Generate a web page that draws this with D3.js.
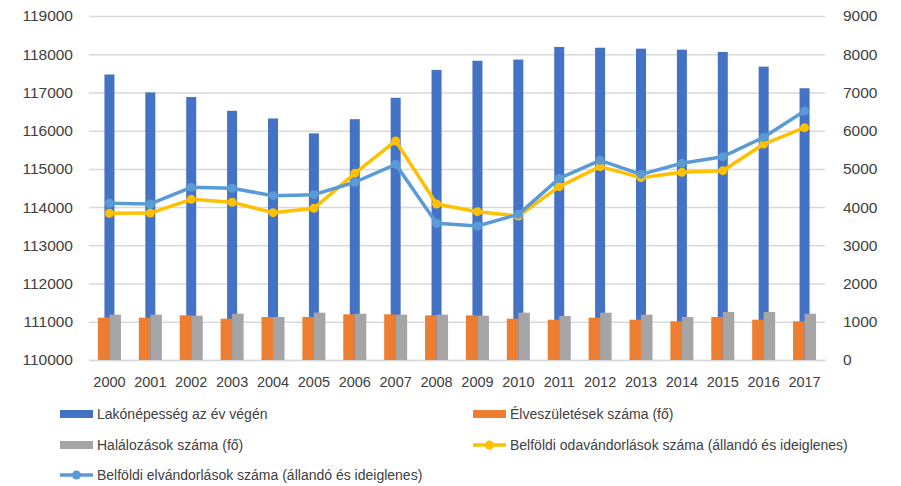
<!DOCTYPE html>
<html>
<head>
<meta charset="utf-8">
<script src="https://cdn.jsdelivr.net/npm/d3@7"></script>
<style>
  body { margin: 0; background: #fff; }
  text { font-family: "Liberation Sans", Arial, sans-serif; fill: #404040; }
</style>
</head>
<body>
<div id="chart"></div>
<script>
const years = ['2000','2001','2002','2003','2004','2005','2006','2007','2008',
    '2009','2010','2011','2012','2013','2014','2015','2016','2017'];

// left axis: resident population at year end
const population = [117470, 117000, 116880, 116520, 116320, 115930, 116300, 116860, 117590,
    117830, 117860, 118190, 118170, 118145, 118120, 118060, 117675, 117110];

// right axis
const births = [1107, 1107, 1168, 1081, 1125, 1125, 1195, 1195, 1168,
    1168, 1081, 1055, 1107, 1055, 1012, 1125, 1055, 1012];
const deaths = [1186, 1186, 1160, 1212, 1125, 1238, 1212, 1186, 1186,
    1160, 1238, 1151, 1238, 1186, 1125, 1256, 1256, 1212];
const inMigration = [3838, 3845, 4204, 4126, 3855, 3968, 4884, 5730, 4082,
    3881, 3768, 4535, 5058, 4771, 4910, 4953, 5651, 6079];
const outMigration = [4100, 4082, 4518, 4492, 4299, 4325, 4650, 5120, 3576,
    3506, 3811, 4753, 5224, 4858, 5146, 5320, 5826, 6515];

const leftTicks = [110000, 111000, 112000, 113000, 114000, 115000, 116000, 117000, 118000, 119000];
const rightTicks = [0, 1000, 2000, 3000, 4000, 5000, 6000, 7000, 8000, 9000];

const legendItems = [
    {label: 'Lakónépesség az év végén', color: '#4472C4', type: 'bar'},
    {label: 'Élveszületések száma (fő)', color: '#ED7D31', type: 'bar'},
    {label: 'Halálozások száma (fő)', color: '#A5A5A5', type: 'bar'},
    {label: 'Belföldi odavándorlások száma (állandó és ideiglenes)', color: '#FFC000', type: 'line'},
    {label: 'Belföldi elvándorlások száma (állandó és ideiglenes)', color: '#5B9BD5', type: 'line'}
];

const width = 901, height = 486;
const plot = {left: 89, right: 825, top: 16, bottom: 360};

const svg = d3.select('#chart').append('svg')
    .attr('width', width)
    .attr('height', height);

const x = d3.scaleBand()
    .domain(years)
    .range([plot.left, plot.right]);

const yL = d3.scaleLinear()
    .domain([110000, 119000])
    .range([plot.bottom, plot.top]);

const yR = d3.scaleLinear()
    .domain([0, 9000])
    .range([plot.bottom, plot.top]);

const sub = d3.scaleBand()
    .domain(['births', 'deaths'])
    .range([-11.5, 11.5]);

// grid + left axis
svg.append('g')
    .attr('transform', 'translate(' + plot.left + ',0)')
    .call(d3.axisLeft(yL).tickValues(leftTicks).tickSizeInner(-(plot.right - plot.left)).tickSizeOuter(0).tickPadding(16).tickFormat(d3.format('d')))
    .call(g => g.select('.domain').remove())
    .call(g => g.selectAll('line').attr('stroke', '#d9d9d9').attr('stroke-width', 1.5))
    .call(g => g.selectAll('text').style('font-size', '15.5px').attr('fill', '#404040'));

// right axis
svg.append('g')
    .attr('transform', 'translate(' + plot.right + ',0)')
    .call(d3.axisRight(yR).tickValues(rightTicks).tickSize(0).tickPadding(18).tickFormat(d3.format('d')))
    .call(g => g.select('.domain').remove())
    .call(g => g.selectAll('text').style('font-size', '15.5px').attr('fill', '#404040'));

// x axis
svg.append('g')
    .attr('transform', 'translate(0,' + plot.bottom + ')')
    .call(d3.axisBottom(x).tickSize(0).tickPadding(17))
    .call(g => g.select('.domain').attr('stroke', '#d9d9d9').attr('stroke-width', 1.5))
    .call(g => g.selectAll('text').style('font-size', '14.5px').attr('fill', '#404040'));

const center = d => x(d) + x.bandwidth() / 2;

// population bars
svg.append('g').selectAll('rect')
    .data(years)
    .enter().append('rect')
    .attr('x', d => center(d) - 5)
    .attr('width', 10)
    .attr('y', (d, i) => yL(population[i]))
    .attr('height', (d, i) => plot.bottom - yL(population[i]))
    .attr('fill', '#4472C4');

// births / deaths bars
svg.append('g').selectAll('rect')
    .data(years)
    .enter().append('rect')
    .attr('x', d => center(d) + sub('births'))
    .attr('width', sub.bandwidth())
    .attr('y', (d, i) => yR(births[i]))
    .attr('height', (d, i) => plot.bottom - yR(births[i]))
    .attr('fill', '#ED7D31');

svg.append('g').selectAll('rect')
    .data(years)
    .enter().append('rect')
    .attr('x', d => center(d) + sub('deaths'))
    .attr('width', sub.bandwidth())
    .attr('y', (d, i) => yR(deaths[i]))
    .attr('height', (d, i) => plot.bottom - yR(deaths[i]))
    .attr('fill', '#A5A5A5');

function drawLine(values, color) {
    const line = d3.line()
        .x((d, i) => center(years[i]))
        .y(d => yR(d));

    svg.append('path')
        .datum(values)
        .attr('d', line)
        .attr('fill', 'none')
        .attr('stroke', color)
        .attr('stroke-width', 3.5)
        .attr('stroke-linejoin', 'round');

    svg.append('g').selectAll('circle')
        .data(values)
        .enter().append('circle')
        .attr('cx', (d, i) => center(years[i]))
        .attr('cy', d => yR(d))
        .attr('r', 4.5)
        .attr('fill', color);
}

drawLine(inMigration, '#FFC000');
drawLine(outMigration, '#5B9BD5');

// legend
const legendX = [60, 473], legendY = [414, 445, 475];
const legend = svg.append('g');
legendItems.forEach((item, i) => {
    const g = legend.append('g')
        .attr('transform', 'translate(' + legendX[i % 2] + ',' + legendY[Math.floor(i / 2)] + ')');
    if (item.type === 'bar') {
        g.append('rect')
            .attr('x', 0).attr('y', -4)
            .attr('width', 33).attr('height', 8)
            .attr('fill', item.color);
    } else {
        g.append('line')
            .attr('x1', 0).attr('x2', 33)
            .attr('stroke', item.color).attr('stroke-width', 3.5);
        g.append('circle')
            .attr('cx', 16.5).attr('r', 4.5)
            .attr('fill', item.color);
    }
    g.append('text')
        .attr('x', 37)
        .attr('dy', '0.35em')
        .style('font-size', '14px')
        .text(item.label);
});
</script>
</body>
</html>
